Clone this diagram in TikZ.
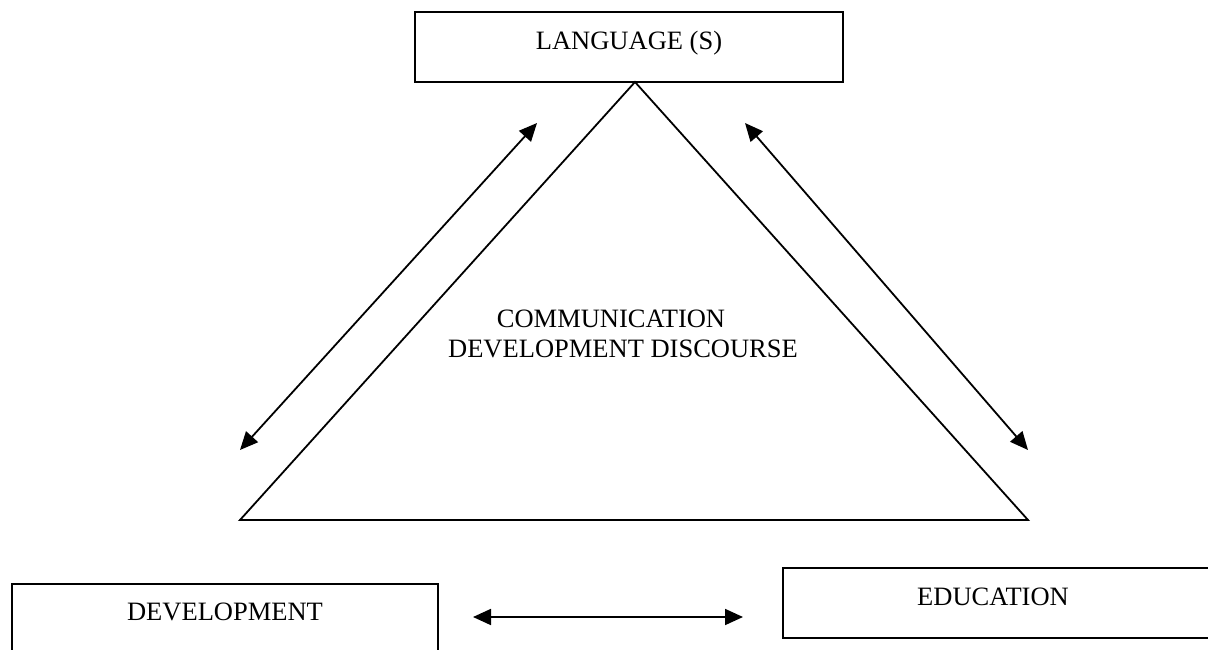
\documentclass[tikz,border=0pt]{standalone}
\usepackage{fontspec}
\setmainfont{Liberation Serif}
\usetikzlibrary{arrows.meta,positioning,calc}

\tikzset{
    box/.style={draw, rectangle, line width=1.8pt},
    lbl/.style={anchor=base, inner sep=0pt, font=\fontsize{26.5}{31}\selectfont},
    link/.style={{Triangle[length=18pt,width=16pt]}-{Triangle[length=18pt,width=16pt]}, line width=1.8pt}
}

\begin{document}
\begin{tikzpicture}[x=1pt, y=-1pt]
    \clip (0,0) rectangle (1208,650);

    % Language box
    \node[box, minimum width=428pt, minimum height=70pt] (lang) at (629,47) {};
    \node[lbl] (langtxt) at ([yshift=-3pt]lang.center) {LANGUAGE (S)};

    % Development box
    \node[box, minimum width=426pt, minimum height=70pt] (dev) at (225,619) {};
    \node[lbl] (devtxt) at ([yshift=-1pt]dev.center) {DEVELOPMENT};

    % Education box
    \node[box, minimum width=432pt, minimum height=70pt] (edu) at (999,603) {};
    \node[lbl] (edutxt) at ([xshift=-6pt,yshift=-2pt]edu.center) {EDUCATION};

    % Triangle
    \coordinate (apex) at (635,82);
    \coordinate (bl) at (240,520);
    \coordinate (br) at (1028,520);
    \draw[line width=1.8pt] (apex) -- (bl) -- (br) -- cycle;

    % Discourse text
    \node[lbl] (comm) at (611,327) {COMMUNICATION};
    \node[lbl] (disc) at (623,357) {DEVELOPMENT DISCOURSE};

    % Arrows
    \coordinate (la1) at (537,123);
    \coordinate (la2) at (240,450);
    \coordinate (ra1) at (745,123);
    \coordinate (ra2) at (1028,450);
    \coordinate (ha1) at (473,617);
    \coordinate (ha2) at (743,617);
    \draw[link] (la1) -- (la2);
    \draw[link] (ra1) -- (ra2);
    \draw[link] (ha1) -- (ha2);
\end{tikzpicture}
\end{document}
